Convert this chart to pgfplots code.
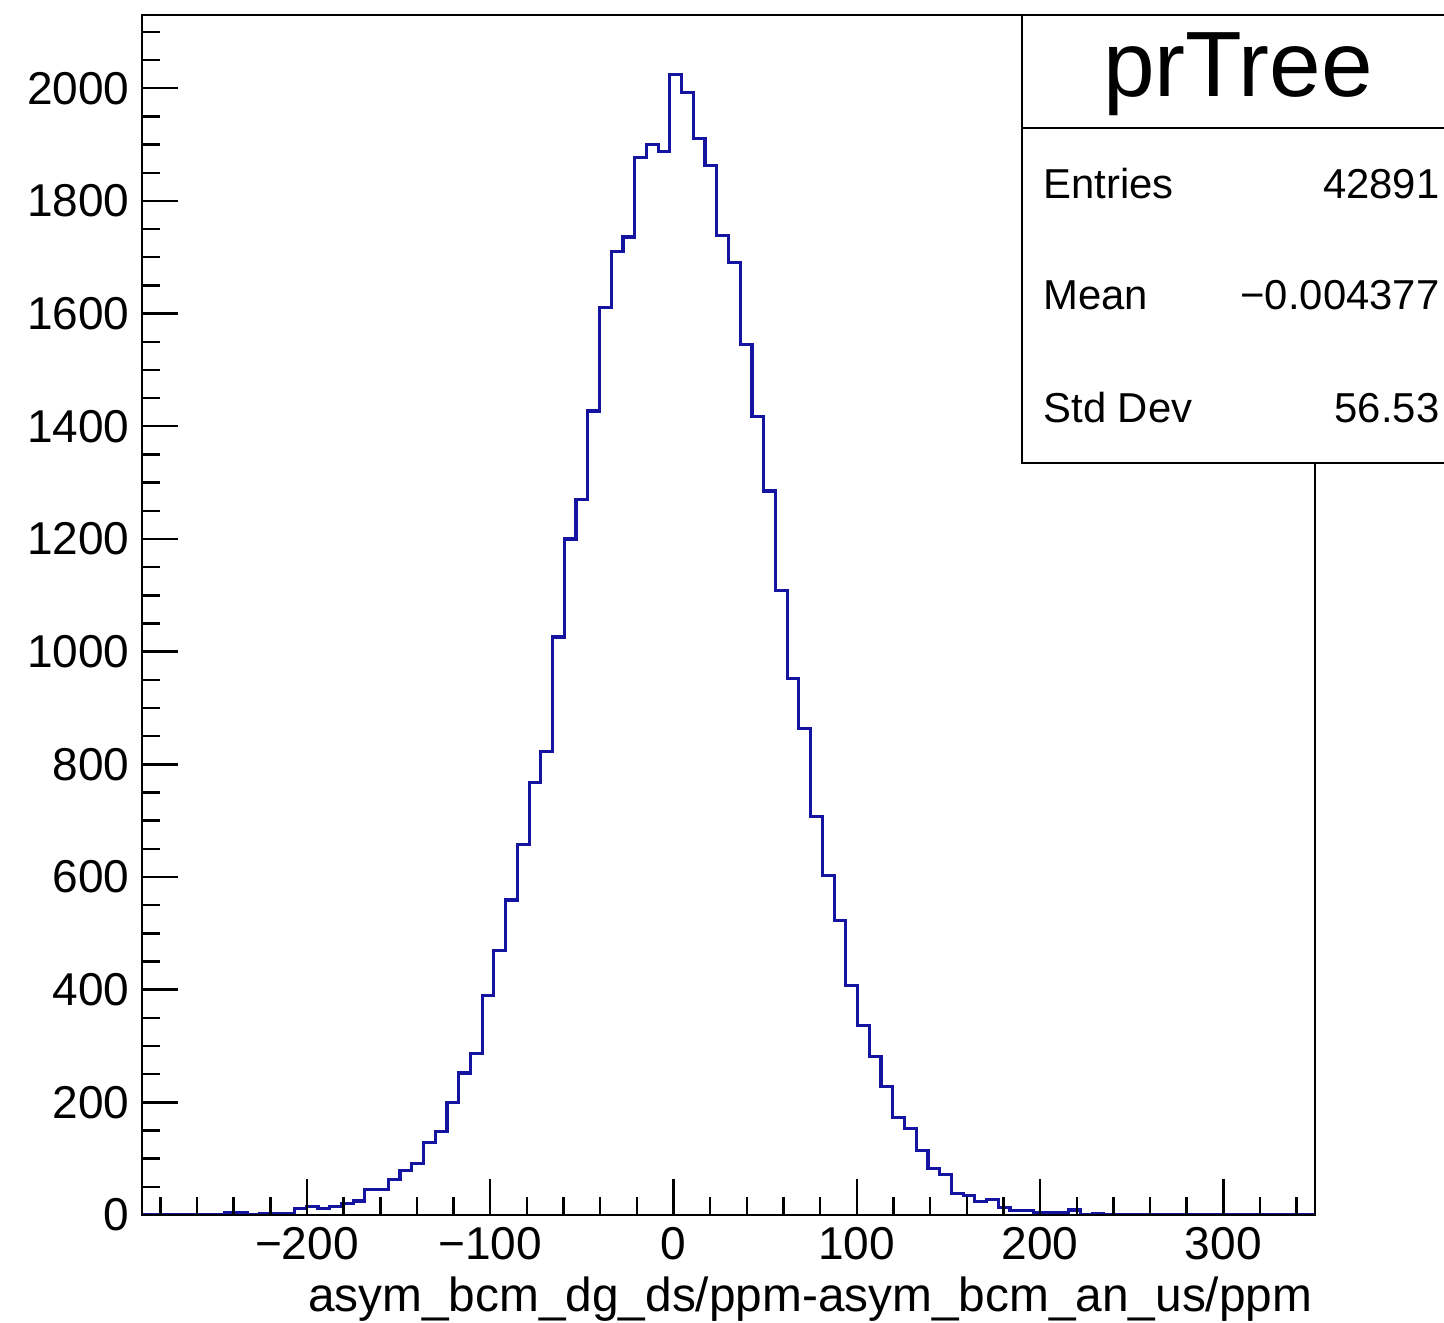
\documentclass[border=0pt]{standalone}
\usepackage{fontspec}
\setmainfont{Liberation Sans}
\usepackage{pgfplots}
\pgfplotsset{compat=1.18}
\definecolor{histblue}{RGB}{20,20,160}

\begin{document}
\begin{tikzpicture}
\begin{axis}[
    scale only axis,
    width=117.3mm, height=120mm,
    xmin=-290, xmax=350, ymin=0, ymax=2130,
    axis on top,
    axis line style={line width=0.8pt},
    tick align=inside,
    xtick pos=bottom, ytick pos=left,
    major tick length=3.6mm, minor tick length=1.8mm,
    every tick/.style={line width=0.7pt, black},
    xtick={-200,-100,...,300},
    xticklabels={−200,−100,0,100,200,300},
    minor xtick={-280,-260,...,340},
    ytick={0,200,...,2000},
    minor ytick={50,100,...,2100},
    tick label style={font=\fontsize{13.1pt}{15pt}\selectfont},
    /pgf/number format/assume math mode=true,
    /pgf/number format/1000 sep={},
    xlabel={asym\_bcm\_dg\_ds/ppm-asym\_bcm\_an\_us/ppm},
    xlabel style={at={(rel axis cs:1,0)}, anchor=base east, inner sep=0pt,
        yshift=-9.6mm, xshift=-0.2mm, font=\fontsize{13.6pt}{16pt}\selectfont},
]
\addplot[const plot, histblue, line width=0.9pt] coordinates {
(-290,0) (-245.2,4) (-238.8,4) (-232.4,0) (-226.0,3) (-219.6,3) (-213.2,3)
(-206.8,11) (-200.4,15) (-194.0,11) (-187.6,15) (-181.2,20) (-174.8,25)
(-168.4,45) (-162.0,45) (-155.6,63) (-149.2,79) (-142.8,92) (-136.4,129)
(-130.0,148) (-123.6,200) (-117.2,252) (-110.8,286) (-104.4,389) (-98.0,470)
(-91.6,559) (-85.2,658) (-78.8,768) (-72.4,822) (-66.0,1026) (-59.6,1200)
(-53.2,1270) (-46.8,1427) (-40.4,1611) (-34.0,1710) (-27.6,1736) (-21.2,1877)
(-14.8,1900) (-8.4,1887) (-2.0,2024) (4.4,1992) (10.8,1911) (17.2,1863)
(23.6,1739) (30.0,1691) (36.4,1545) (42.8,1418) (49.2,1285) (55.6,1109)
(62.0,953) (68.4,863) (74.8,707) (81.2,603) (87.6,523) (94.0,408)
(100.4,337) (106.8,281) (113.2,228) (119.6,173) (126.0,153) (132.4,114)
(138.8,82) (145.2,72) (151.6,38) (158.0,35) (164.4,24) (170.8,28)
(177.2,14) (183.6,8) (190.0,8) (196.4,4) (202.8,4) (209.2,4) (215.6,9)
(222.0,0) (228.4,3) (234.8,0) (350,0)
};
% stats box anchors
\coordinate (bsw) at (rel axis cs:0.7502,0.6267);
\coordinate (bne) at (rel axis cs:1.13,1);
\coordinate (bdiv) at (rel axis cs:0.7502,0.9058);
\coordinate (ttl) at (rel axis cs:0.9344,0.9319);
\coordinate (l1) at (rel axis cs:0.768,0.8473);
\coordinate (r1) at (rel axis cs:1.1066,0.8473);
\coordinate (l2) at (rel axis cs:0.768,0.7542);
\coordinate (r2) at (rel axis cs:1.1066,0.7542);
\coordinate (l3) at (rel axis cs:0.768,0.6606);
\coordinate (r3) at (rel axis cs:1.1066,0.6606);
\end{axis}
\draw[line width=0.7pt, fill=white] (bsw) rectangle (bne);
\draw[line width=0.7pt] (bdiv) -- (bdiv -| bne);
\node[anchor=base, inner sep=0pt, font=\fontsize{26.4pt}{30pt}\selectfont] at (ttl) {prTree};
\begin{scope}[every node/.style={inner sep=0pt, font=\fontsize{11.9pt}{14pt}\selectfont}]
\node[anchor=base west] at (l1) {Entries};
\node[anchor=base east] at (r1) {42891};
\node[anchor=base west] at (l2) {Mean};
\node[anchor=base east] at (r2) {−0.004377};
\node[anchor=base west] at (l3) {Std Dev};
\node[anchor=base east] at (r3) {56.53};
\end{scope}
\pgfresetboundingbox
\path[use as bounding box] (-14.2mm,-10.7mm) rectangle (130.2mm,121.5mm);
\end{tikzpicture}
\end{document}
